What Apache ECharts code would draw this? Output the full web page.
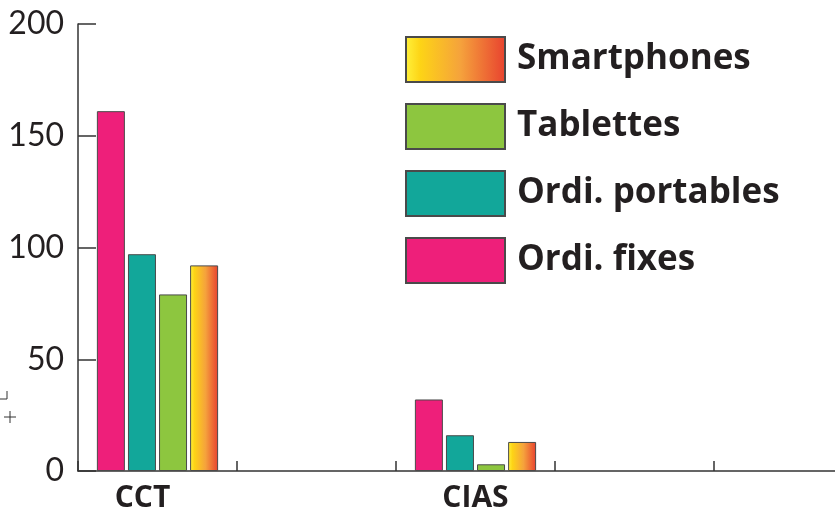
<!DOCTYPE html>
<html><head><meta charset="utf-8">
<script src="https://cdn.jsdelivr.net/npm/echarts@6/dist/echarts.min.js"></script>
<style>html,body{margin:0;padding:0;background:#fff}#c{width:835px;height:512px}</style>
</head><body><div id="c"></div>
<script>
const categories = ['CCT', '', 'CIAS', '', ''];
const seriesNames = ['Ordi. fixes', 'Ordi. portables', 'Tablettes', 'Smartphones'];
const ordiFixes = [161, null, 32, null, null];
const ordiPortables = [97, null, 16, null, null];
const tablettes = [79, null, 3, null, null];
const smartphones = [92, null, 13, null, null];
const legendOrder = ['Smartphones', 'Tablettes', 'Ordi. portables', 'Ordi. fixes'];
const yTicks = [0, 50, 100, 150, 200];

const chart = echarts.init(document.getElementById('c'), null, {renderer: 'canvas'});
const gradient = new echarts.graphic.LinearGradient(0, 0, 1, 0, [
  {offset: 0, color: '#fff23c'}, {offset: 0.15, color: '#fdd416'},
  {offset: 0.55, color: '#f5a23c'}, {offset: 1, color: '#e8412f'}
]);
const colors = ['#ee1f7a', '#12a79a', '#8dc63f', gradient];
const values = [ordiFixes, ordiPortables, tablettes, smartphones];
const boldFont = 'Open Sans';

chart.setOption({
  animation: false,
  grid: {left: 78, top: 24, bottom: 41, right: -38, containLabel: false, outerBoundsMode: 'none'},
  legend: {
    orient: 'vertical', left: 405, top: 36, padding: 0,
    data: legendOrder, icon: 'rect',
    itemWidth: 99, itemHeight: 45, itemGap: 20,
    textStyle: {fontFamily: boldFont, fontWeight: 'bold', fontSize: 35, color: '#231f20', padding: [4, 0, 0, 7]}
  },
  xAxis: {
    type: 'category',
    data: categories.map((c, i) => i === 0 ? {value: c, textStyle: {padding: [0, 30, 0, 0]}} : c),
    axisLine: {show: true, lineStyle: {color: '#333', width: 1.5}},
    axisTick: {show: true, inside: true, length: 10, lineStyle: {color: '#333', width: 1.5}, interval: 0, alignWithLabel: false},
    axisLabel: {fontFamily: boldFont, fontWeight: 'bold', fontSize: 30, color: '#231f20', margin: 12, interval: 0},
    splitLine: {show: false}
  },
  yAxis: {
    type: 'value', min: yTicks[0], max: yTicks[yTicks.length - 1], interval: 50,
    axisLine: {show: true, lineStyle: {color: '#333', width: 1.5}},
    axisTick: {show: true, inside: true, length: 18, lineStyle: {color: '#333', width: 1.5}},
    axisLabel: {fontFamily: 'Lato', fontSize: 32, color: '#231f20', margin: 14},
    splitLine: {show: false}
  },
  series: seriesNames.map((n, i) => ({
    name: n, type: 'bar', data: values[i],
    barWidth: 28, barGap: '11%',
    itemStyle: {color: colors[i], borderColor: '#4a4a4a', borderWidth: 1}
  })),
  graphic: [
    {type: 'polyline', shape: {points: [[7, 391], [7, 399], [0, 399]]}, style: {stroke: '#333', lineWidth: 1, fill: null}},
    {type: 'line', shape: {x1: 4, y1: 417, x2: 16, y2: 417}, style: {stroke: '#333', lineWidth: 1}},
    {type: 'line', shape: {x1: 10, y1: 411, x2: 10, y2: 423}, style: {stroke: '#333', lineWidth: 1}}
  ]
});
</script></body></html>
